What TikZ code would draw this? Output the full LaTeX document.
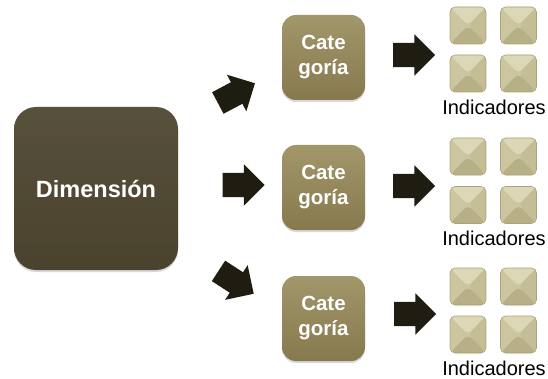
\documentclass[tikz,border=0pt]{standalone}
\usepackage{fontspec}
\setmainfont{Liberation Sans}
\usetikzlibrary{shapes.arrows,shadows}

\definecolor{dimfondo}{HTML}{4D452F}
\definecolor{catarriba}{HTML}{A2976A}
\definecolor{catabajo}{HTML}{85794D}
\definecolor{flechacolor}{HTML}{1F1C11}
\definecolor{indarriba}{HTML}{DCD7B6}
\definecolor{indizq}{HTML}{CCC6A0}
\definecolor{indder}{HTML}{C4BD95}
\definecolor{indabajo}{HTML}{B7AF86}
\definecolor{indborde}{HTML}{ABA47B}

\tikzset{
  dimbox/.style={rounded corners=22pt, minimum width=164pt, minimum height=163pt,
    top color=dimfondo!94!white, bottom color=dimfondo!96!black, text=white,
    font=\fontsize{23.5}{28}\selectfont\bfseries,
    drop shadow={opacity=0.3, shadow xshift=0pt, shadow yshift=-2pt}},
  catbox/.style={rounded corners=14pt, minimum width=83pt, minimum height=85pt,
    top color=catarriba, bottom color=catabajo, text=white, align=center,
    font=\fontsize{20.5}{25}\selectfont\bfseries,
    drop shadow={opacity=0.3, shadow xshift=0pt, shadow yshift=-2pt}},
  flecha/.style={single arrow, fill=flechacolor, minimum height=42pt, inner sep=12pt,
    single arrow head extend=8.5pt, single arrow tip angle=90},
  indbox/.style={rounded corners=5pt, minimum width=36pt, minimum height=37pt,
    draw=indborde, line width=0.6pt,
    path picture={
      \fill[indizq] (path picture bounding box.south west) rectangle (path picture bounding box.north east);
      \fill[indarriba] (path picture bounding box.north west) -- (path picture bounding box.north east) -- (path picture bounding box.center) -- cycle;
      \fill[indder] (path picture bounding box.north east) -- (path picture bounding box.south east) -- (path picture bounding box.center) -- cycle;
      \fill[indabajo] (path picture bounding box.south west) -- (path picture bounding box.south east) -- (path picture bounding box.center) -- cycle;
    }},
  indtext/.style={anchor=base, inner sep=0pt, font=\fontsize{20}{24}\selectfont}
}

\begin{document}
\begin{tikzpicture}[x=1pt, y=1pt]
\useasboundingbox (0,0) rectangle (548,378);

% dimension y categorias
\node[dimbox] (dim) at (96,189.5) {Dimensión};
\node[catbox] (cat1) at (323.5,320.5) {Cate\\goría};
\node[catbox] (cat2) at (323.5,190.5) {Cate\\goría};
\node[catbox] (cat3) at (323.5,59.5) {Cate\\goría};

% flechas
\node[flecha, rotate=28] (fa1) at (231,282) {};
\node[flecha] (fa2) at (237.5,193) {};
\node[flecha, rotate=-33] (fa3) at (231,99) {};
\node[flecha] (fb1) at (408,323) {};
\node[flecha] (fb2) at (408,192) {};
\node[flecha] (fb3) at (409,64) {};

% indicadores
\node[indbox] (i11) at (468,352.5) {};
\node[indbox] (i12) at (518.5,352.5) {};
\node[indbox] (i13) at (468,304.5) {};
\node[indbox] (i14) at (518.5,304.5) {};
\node[indtext] (t1) at (494,263) {Indicadores};

\node[indbox] (i21) at (468,221.5) {};
\node[indbox] (i22) at (518.5,221.5) {};
\node[indbox] (i23) at (468,173) {};
\node[indbox] (i24) at (518.5,173) {};
\node[indtext] (t2) at (494,133) {Indicadores};

\node[indbox] (i31) at (468,91.5) {};
\node[indbox] (i32) at (518.5,91.5) {};
\node[indbox] (i33) at (468,43.5) {};
\node[indbox] (i34) at (518.5,43.5) {};
\node[indtext] (t3) at (494,3) {Indicadores};
\end{tikzpicture}
\end{document}
